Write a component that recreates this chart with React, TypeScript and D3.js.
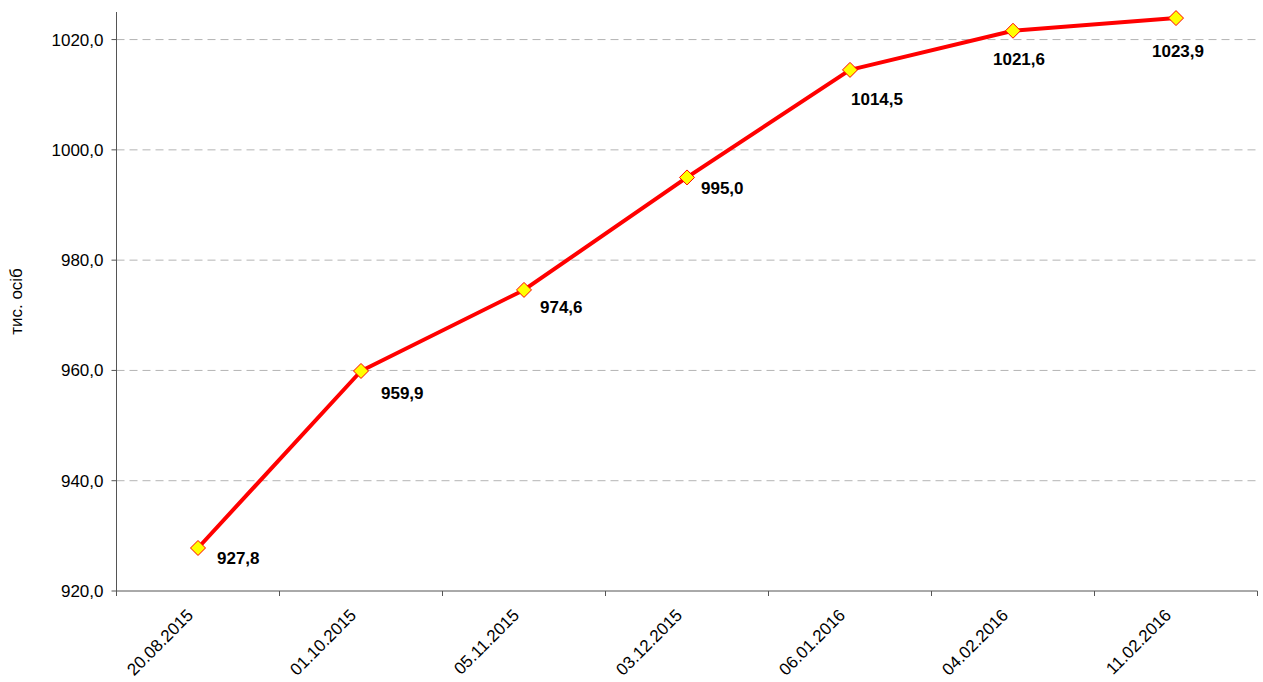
import React from "react";
import * as d3 from "d3";

const categories = ["20.08.2015", "01.10.2015", "05.11.2015", "03.12.2015", "06.01.2016", "04.02.2016", "11.02.2016"];
const values = [927.8, 959.9, 974.6, 995.0, 1014.5, 1021.6, 1023.9];
const yTicks = [920, 940, 960, 980, 1000, 1020];
const yTitle = "тис. осіб";
// label placement offsets (layout only)
const labelOffsets: [number, number][] = [[19, 16], [20, 28], [16, 23], [14, 17], [1, 35], [-20, 34], [-24, 39]];

const W = 1263, H = 682;
const left = 116.5, right = 1257.5, top = 12, bottom = 591;

export default function App() {
  const x = d3.scaleBand<string>().domain(categories).range([left, right]);
  const y = d3.scaleLinear().domain([920, 1025]).range([bottom, top]);
  const fmt = (v: number) => v.toFixed(1).replace(".", ",");
  const line = d3.line<number>().x((_, i) => x(categories[i])! + x.bandwidth() / 2).y((v) => y(v));
  const font = "Arial, 'Liberation Sans', sans-serif";
  const axisColor = "#555";
  return (
    <svg width={W} height={H} style={{ position: "absolute", left: 0, top: 0, background: "#fff" }} fontFamily={font}>
      {yTicks.filter((t) => t !== 920).map((t) => (
        <line key={"g" + t} x1={left} x2={right} y1={y(t)} y2={y(t)} stroke="#b4b4b4" strokeDasharray="8,5" strokeWidth={1} />
      ))}
      <line x1={left} x2={left} y1={top} y2={bottom} stroke={axisColor} strokeWidth={1} />
      <line x1={left} x2={right} y1={bottom} y2={bottom} stroke={axisColor} strokeWidth={1} />
      {yTicks.map((t) => (
        <g key={"t" + t}>
          <line x1={left - 5} x2={left} y1={y(t)} y2={y(t)} stroke={axisColor} />
          <text x={left - 13} y={y(t)} dy="0.35em" textAnchor="end" fontSize={17} fill="#000">{fmt(t)}</text>
        </g>
      ))}
      {categories.map((c, i) => (
        <line key={"xt" + i} x1={x(c)!} x2={x(c)!} y1={bottom} y2={bottom + 5} stroke={axisColor} />
      ))}
      <line x1={right} x2={right} y1={bottom} y2={bottom + 5} stroke={axisColor} />
      {categories.map((c) => {
        const cx = x(c)! + x.bandwidth() / 2;
        return (
          <text key={"xl" + c} transform={`translate(${cx - 8},${612}) rotate(-45)`} textAnchor="end" dy="0.35em" fontSize={17} fill="#000">{c}</text>
        );
      })}
      <text transform={`translate(${22},${(top + bottom) / 2}) rotate(-90)`} textAnchor="middle" fontSize={17} fill="#000">{yTitle}</text>
      <path d={line(values) || ""} fill="none" stroke="#ff0000" strokeWidth={4} strokeLinejoin="round" />
      {values.map((v, i) => {
        const cx = x(categories[i])! + x.bandwidth() / 2;
        const cy = y(v);
        const r = 7.5;
        return (
          <g key={"m" + i}>
            <path d={`M${cx},${cy - r}L${cx + r},${cy}L${cx},${cy + r}L${cx - r},${cy}Z`} fill="#ffff00" stroke="#ff0000" strokeWidth={1} />
            <text x={cx + labelOffsets[i][0]} y={cy + labelOffsets[i][1]} fontSize={17} fontWeight="bold" fill="#000">{fmt(v)}</text>
          </g>
        );
      })}
    </svg>
  );
}
